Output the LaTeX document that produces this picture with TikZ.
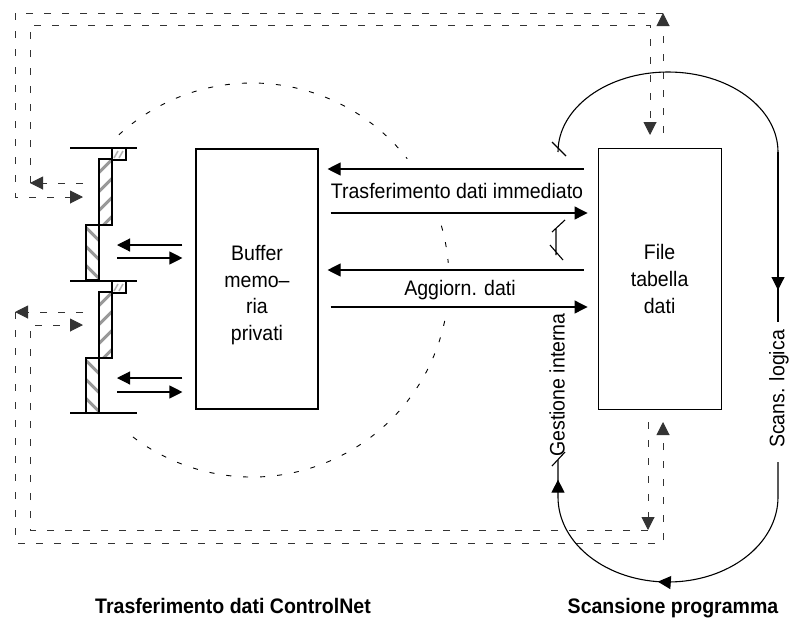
\documentclass[tikz,border=0pt]{standalone}
\usepackage{fontspec}
\setmainfont{Liberation Sans}[FakeStretch=0.93]
\usetikzlibrary{arrows.meta, positioning, decorations.markings}

\begin{document}
\begin{tikzpicture}[x=1pt, y=-1pt,
  line width=1.1pt,
  txt/.style={font=\fontsize{21}{26.7}\selectfont, align=center, inner sep=0pt},
  captxt/.style={font=\bfseries\fontsize{21}{26}\selectfont, inner sep=0pt},
  box/.style={rectangle, draw, align=center, inner sep=0pt,
              font=\fontsize{21}{26.7}\selectfont},
  tri/.tip={Triangle[length=13pt, width=13pt]},
  arrow/.style={-{tri}},
  dashline/.style={dash pattern=on 7pt off 11pt, line width=1pt, black!80},
  circline/.style={dash pattern=on 5pt off 12pt, line width=0.9pt},
  hatch/.style={line width=3pt, black!40},
  midarrow/.style={postaction={decorate},
                   decoration={markings, mark=at position #1 with {\arrow{tri}}}},
]
  \useasboundingbox (0,0) rectangle (797,627);

  \node[box, minimum width=122pt, minimum height=260pt] (buffer) at (257,279) {};
  \node[txt] (buffertxt) at (257,295) {Buffer\\memo–\\ria\\privati};
  \node[box, minimum width=123pt, minimum height=261pt, right=279pt of buffer] (file)
    {File\\tabella\\dati};

  % slot cards
  \draw (70,148) -- (137,148) (70,281) -- (137,281) (70,413) -- (137,413);
  \foreach \y in {148,281} {
    \begin{scope}[shift={(0,\y)}]
      \begin{scope}
        \clip (99,11) rectangle (112,77);
        \foreach \c in {18,37,56,75}
          \draw[hatch] (95,\c+10.5) -- (116,\c-10.5);
      \end{scope}
      \begin{scope}
        \clip (86,77) rectangle (99,132);
        \foreach \c in {86,105,124}
          \draw[hatch] (82,\c-10.5) -- (103,\c+10.5);
      \end{scope}
      \begin{scope}
        \clip (112,0) rectangle (126,12);
        \draw[line width=1.5pt, black!30] (114,10) -- (118,3) (119,10) -- (123,3);
      \end{scope}
      \draw (99,11) rectangle (112,77);
      \draw (86,77) rectangle (99,132);
      \draw (112,0) rectangle (126,12);
    \end{scope}
  }

  \coordinate (port) at (117,0);
  \coordinate (mA) at (0,245);
  \coordinate (mB) at (0,258);
  \coordinate (mC) at (0,378);
  \coordinate (mD) at (0,392);
  \draw[arrow, shorten <=13pt] (buffer.west |- mA) -- (port |- mA);
  \draw[arrow, shorten >=13pt] (port |- mB) -- (buffer.west |- mB);
  \draw[arrow, shorten <=13pt] (buffer.west |- mC) -- (port |- mC);
  \draw[arrow, shorten >=13pt] (port |- mD) -- (buffer.west |- mD);

  \coordinate (rowA) at (0,169);
  \coordinate (rowB) at (0,213);
  \coordinate (rowC) at (0,270);
  \coordinate (rowD) at (0,307);
  \draw[arrow, shorten <=14pt, shorten >=9pt] (file.west |- rowA) -- (buffer.east |- rowA);
  \draw[arrow, shorten <=12pt, shorten >=10pt] (buffer.east |- rowB) -- (file.west |- rowB);
  \draw[arrow, shorten <=14pt, shorten >=9pt] (file.west |- rowC) -- (buffer.east |- rowC);
  \draw[arrow, shorten <=12pt, shorten >=10pt] (buffer.east |- rowD) -- (file.west |- rowD);
  \node[txt, anchor=base] (immediate) at (457,198) {Trasferimento dati immediato};
  \node[txt, anchor=base] (update) at (460,295) {Aggiorn. dati};

  % dashed transfer loops
  \coordinate (upout) at (83,183);
  \coordinate (upin) at (83,197);
  \coordinate (lowout) at (83,312);
  \coordinate (lowin) at (83,325);
  \coordinate (ftopin) at (650,135);
  \coordinate (ftopout) at (663,133);
  \coordinate (fbotin) at (648,422);
  \coordinate (fbotout) at (663,422);
  \draw[dashline, arrow] (upout) -- (30,183);
  \draw[dashline, arrow] (30,183) |- (650,25) -- (ftopin);
  \draw[dashline, arrow] (ftopout) -- (663,13);
  \draw[dashline, arrow] (663,13) -| (15,197) -- (upin);
  \draw[dashline, arrow] (lowout) -- (15,312);
  \draw[dashline, arrow] (15,312) |- (663,543) -- (fbotout);
  \draw[dashline, arrow] (fbotin) -- (648,530);
  \draw[dashline, arrow] (648,530) -| (30,325) -- (lowin);

  % housekeeping circle
  \coordinate (hk) at (252,280);
  \draw[circline] (hk) ++(-132.5:197) arc[start angle=-132.5, end angle=-38, radius=197];
  \draw[circline] (hk) ++(-16:197) arc[start angle=-16, end angle=-5, radius=197];
  \draw[circline] (hk) ++(12:197) arc[start angle=12, end angle=129, radius=197];

  % program scan
  \coordinate (scanL) at (558,152);
  \draw (scanL) arc[start angle=180, end angle=360, x radius=110, y radius=80] coordinate (scanR);
  \draw[midarrow=138pt] (scanR) -- ++(0,170);
  \draw[postaction={decorate}, decoration={markings,
      mark=at position 199pt with {\arrow{tri}},
      mark=at position 360pt with {\arrow{tri}}}]
    (778,462) -- (778,497) arc[start angle=0, end angle=180, x radius=110, y radius=85]
    -- (558,460);
  \draw (552,142) -- (566,156);
  \draw (556,228) -- (556,255) (552,232) -- (565,220) (550,245) -- (563,260);
  \draw (552,466) -- (565,452);
  \node[txt, rotate=90] (housekeeping) at (557,385) {Gestione interna};
  \node[txt, rotate=90] (logicscan) at (779,389) {Scans. logica};

  \node[captxt, anchor=base] (cnet) at (233,613) {Trasferimento dati ControlNet};
  \node[captxt, anchor=base] (progscan) at (673,613) {Scansione programma};
\end{tikzpicture}
\end{document}
